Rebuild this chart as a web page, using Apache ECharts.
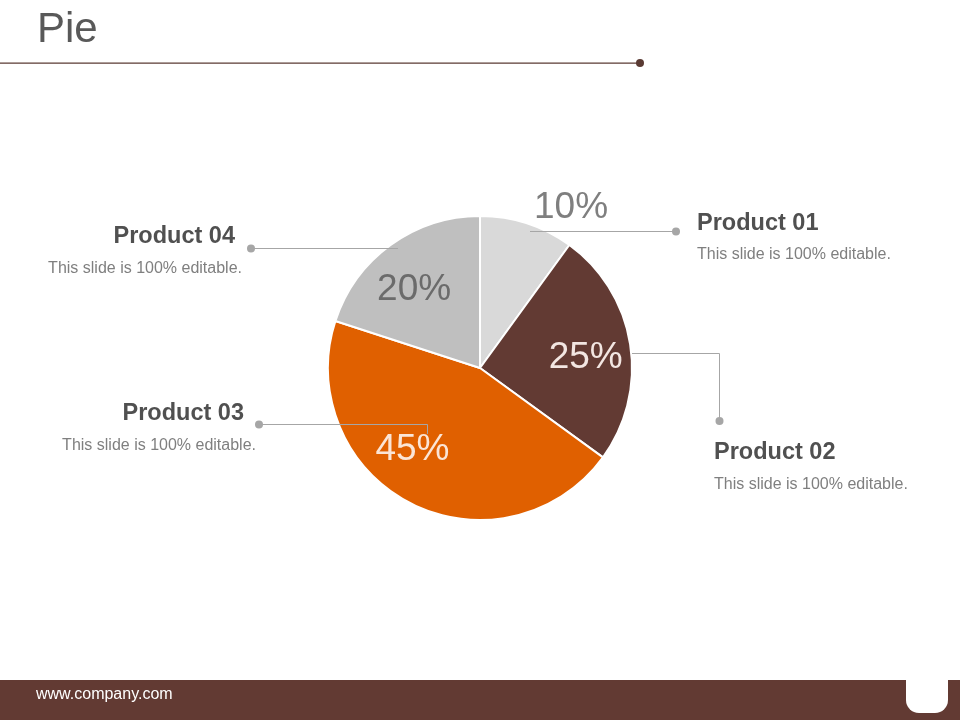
<!DOCTYPE html>
<html>
<head>
<meta charset="utf-8">
<title>Pie</title>
<script src="https://cdn.jsdelivr.net/npm/echarts@6/dist/echarts.min.js"></script>
<style>
  html, body { margin: 0; padding: 0; background: #fff; }
  #chart { width: 960px; height: 720px; }
</style>
</head>
<body>
<div id="chart"></div>
<script>
// data
const products = ['Product 01', 'Product 02', 'Product 03', 'Product 04'];
const shares = [10, 25, 45, 20];
const captions = ['This slide is 100% editable.', 'This slide is 100% editable.',
  'This slide is 100% editable.', 'This slide is 100% editable.'];

const sliceColors = ['#d9d9d9', '#623a33', '#e06000', '#bfbfbf'];
const pctColors = ['#7f7f7f', '#f3e6e2', '#fbe5d6', '#6b6b6b'];
// nudge for the percent labels (10% sits above the pie)
const pctNudge = [[58, -58], [0, 7], [-19, -14], [-3, 8]];

const FONT = 'Liberation Sans';
const chart = echarts.init(document.getElementById('chart'));

const grey = '#a6a6a6';
const callout = function (pts, dot) {
  return [
    { type: 'polyline', shape: { points: pts }, style: { stroke: grey, lineWidth: 1, fill: null }, z: 10 },
    { type: 'circle', shape: { cx: dot[0], cy: dot[1], r: 4 }, style: { fill: grey }, z: 10 }
  ];
};
const txt = function (s, x, y, align, size, weight, color) {
  return { type: 'text', x: x, y: y, z: 10,
    style: { text: s, fill: color, fontFamily: FONT, fontSize: size, fontWeight: weight,
      align: align, verticalAlign: 'middle' } };
};
const heading = (s, x, y, a) => txt(s, x, y, a, 23.5, 'bold', '#505050');
const sub = (s, x, y, a) => txt(s, x, y, a, 16, 'normal', '#7f7f7f');

const option = {
  backgroundColor: '#fff',
  animation: false,
  graphic: [
    txt('Pie', 37, 30, 'left', 42, 'normal', '#595959'),
    { type: 'rect', shape: { x: 0, y: 62.5, width: 640, height: 1.2 }, style: { fill: '#5a3a33' } },
    { type: 'circle', shape: { cx: 640, cy: 63, r: 4 }, style: { fill: '#5a3a33' } },

    ...callout([[530, 231.5], [676, 231.5]], [676, 231.5]),
    ...callout([[632, 353.5], [719.5, 353.5], [719.5, 421]], [719.5, 421]),
    ...callout([[427.5, 434], [427.5, 424.5], [259, 424.5]], [259, 424.5]),
    ...callout([[398, 248.5], [251, 248.5]], [251, 248.5]),

    heading(products[0], 697, 224, 'left'), sub(captions[0], 697, 255, 'left'),
    heading(products[1], 714, 453, 'left'), sub(captions[1], 714, 485, 'left'),
    heading(products[2], 244, 414, 'right'), sub(captions[2], 256, 446, 'right'),
    heading(products[3], 235, 237, 'right'), sub(captions[3], 242, 269, 'right'),

    // footer
    { type: 'rect', shape: { x: 0, y: 680, width: 960, height: 40 }, style: { fill: '#623a33' } },
    { type: 'rect', shape: { x: 906, y: 674, width: 42, height: 39, r: [0, 0, 13, 13] }, style: { fill: '#fff' } },
    { type: 'text', x: 36, y: 695, style: { text: 'www.company.com', fill: '#fff',
      fontFamily: 'Liberation Sans Narrow, Liberation Sans', fontSize: 16, verticalAlign: 'middle' } }
  ],
  series: [
    {
      type: 'pie',
      center: [480, 368],
      radius: [0, 152],
      startAngle: 90,
      clockwise: true,
      silent: true,
      label: { show: false },
      labelLine: { show: false },
      itemStyle: { borderColor: '#fff', borderWidth: 2 },
      data: products.map((p, i) => ({ name: p, value: shares[i], itemStyle: { color: sliceColors[i] } }))
    },
    {
      // transparent ring only used to place the percent labels
      type: 'pie',
      center: [480, 368],
      radius: [0, 208],
      startAngle: 90,
      clockwise: true,
      silent: true,
      z: 5,
      itemStyle: { color: 'rgba(0,0,0,0)' },
      label: { show: true, position: 'inside', fontSize: 37, fontFamily: FONT, formatter: '{c}%' },
      labelLine: { show: false },
      labelLayout: function (p) {
        const n = pctNudge[p.dataIndex];
        return { dx: n[0], dy: n[1] };
      },
      data: products.map((p, i) => ({ name: p, value: shares[i], label: { color: pctColors[i] } }))
    }
  ]
};

chart.setOption(option);
window.addEventListener('resize', chart.resize);
</script>
</body>
</html>
